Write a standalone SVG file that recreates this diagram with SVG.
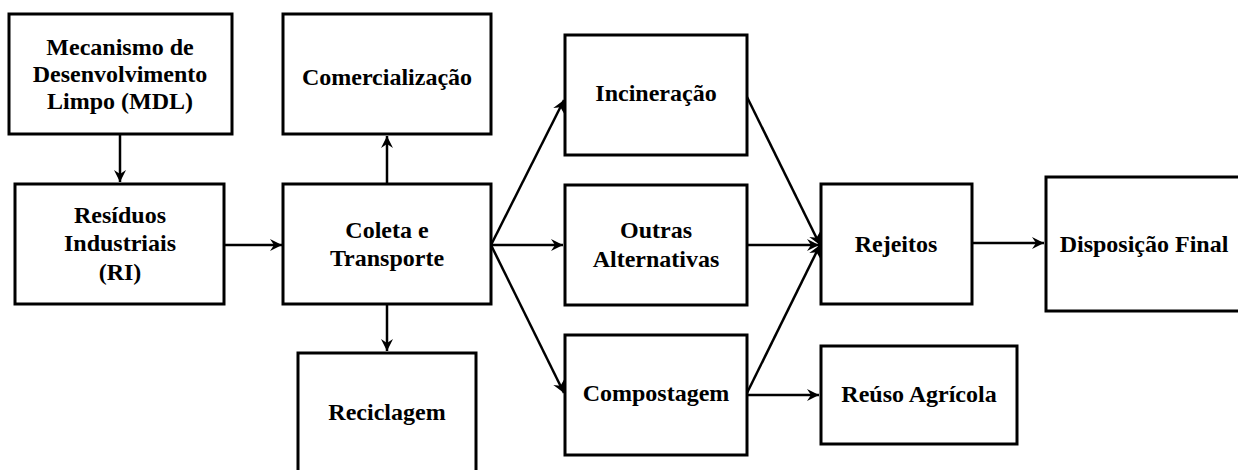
<svg xmlns="http://www.w3.org/2000/svg" width="1238" height="470" viewBox="0 0 1238 470">
<defs>
<style>
.box{fill:#fff;stroke:#000;stroke-width:3}
.t{font-family:"Liberation Serif","Times New Roman",serif;font-weight:bold;font-size:24px;text-anchor:middle;fill:#000}
.c{stroke:#000;stroke-width:2.5;fill:none;marker-end:url(#ah)}
</style>
<marker id="ah" markerUnits="userSpaceOnUse" markerWidth="14" markerHeight="14" refX="12" refY="6" orient="auto" overflow="visible">
<path d="M0,0 L12,6 L0,12 L4,6 z" fill="#000"/>
</marker>
</defs>
<rect width="1238" height="470" fill="#fff"/>
<g id="connectors">
<line class="c" x1="120" y1="134" x2="120" y2="182"/>
<line class="c" x1="224" y1="245" x2="282" y2="245"/>
<line class="c" x1="387" y1="184" x2="387" y2="136"/>
<line class="c" x1="387" y1="304" x2="387" y2="351"/>
<line class="c" x1="491" y1="245" x2="564" y2="100"/>
<line class="c" x1="491" y1="245" x2="563" y2="245"/>
<line class="c" x1="491" y1="245" x2="564" y2="393"/>
<line class="c" x1="747" y1="97" x2="820" y2="245"/>
<line class="c" x1="747" y1="245" x2="819" y2="245"/>
<line class="c" x1="747" y1="393" x2="820" y2="245"/>
<line class="c" x1="747" y1="395" x2="819" y2="395"/>
<line class="c" x1="972" y1="243" x2="1044" y2="243"/>
</g>
<g id="mdl"><rect class="box" x="9" y="14" width="223" height="120"/>
<text class="t" x="120" y="55">Mecanismo de</text>
<text class="t" x="120" y="82">Desenvolvimento</text>
<text class="t" x="120" y="109">Limpo (MDL)</text></g>
<g id="comercializacao"><rect class="box" x="283" y="14" width="208" height="120"/>
<text class="t" x="387" y="85">Comercialização</text></g>
<g id="residuos"><rect class="box" x="15" y="184" width="209" height="120"/>
<text class="t" x="120" y="223">Resíduos</text>
<text class="t" x="120" y="251">Industriais</text>
<text class="t" x="120" y="280">(RI)</text></g>
<g id="coleta"><rect class="box" x="283" y="184" width="208" height="120"/>
<text class="t" x="387" y="238">Coleta e</text>
<text class="t" x="387" y="266">Transporte</text></g>
<g id="reciclagem"><rect class="box" x="298" y="353" width="178" height="130"/>
<text class="t" x="387" y="420">Reciclagem</text></g>
<g id="incineracao"><rect class="box" x="565" y="35" width="182" height="120"/>
<text class="t" x="656" y="101">Incineração</text></g>
<g id="outras"><rect class="box" x="565" y="185" width="182" height="120"/>
<text class="t" x="656" y="238">Outras</text>
<text class="t" x="656" y="267">Alternativas</text></g>
<g id="compostagem"><rect class="box" x="565" y="335" width="182" height="120"/>
<text class="t" x="656" y="401">Compostagem</text></g>
<g id="rejeitos"><rect class="box" x="821" y="184" width="151" height="120"/>
<text class="t" x="896" y="252">Rejeitos</text></g>
<g id="reuso"><rect class="box" x="821" y="346" width="196" height="98"/>
<text class="t" x="919" y="402">Reúso Agrícola</text></g>
<g id="disposicao"><rect class="box" x="1046" y="177" width="200" height="134"/>
<text class="t" x="1144" y="252">Disposição Final</text></g>
</svg>
